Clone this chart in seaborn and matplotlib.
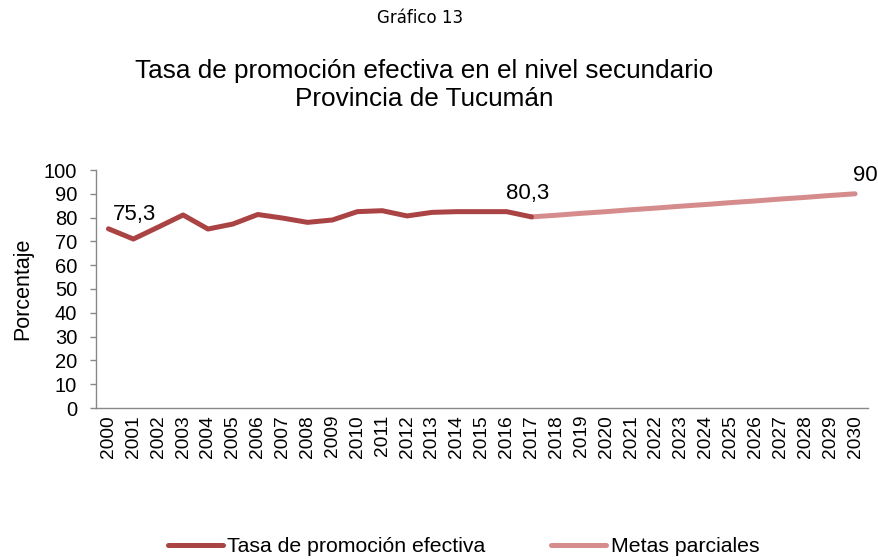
import matplotlib
matplotlib.use("Agg")
import matplotlib.pyplot as plt
import seaborn as sns
import pandas as pd

years_tasa = list(range(2000, 2018))
tasa = [75.3, 71.0, 76.0, 81.1, 75.2, 77.3, 81.3, 79.8, 78.0, 79.0, 82.5, 82.9, 80.7, 82.2, 82.5, 82.5, 82.5, 80.3]
years_metas = list(range(2017, 2031))
metas = [80.3, 81.0, 81.8, 82.5, 83.3, 84.0, 84.8, 85.5, 86.3, 87.0, 87.8, 88.5, 89.3, 90.0]
tick_years = list(range(2000, 2031))
yticks = list(range(0, 101, 10))

sns.set_theme(style="white")
plt.rcParams['font.family'] = ['Liberation Sans', 'DejaVu Sans']
plt.rcParams['text.color'] = 'black'
plt.rcParams['axes.labelcolor'] = 'black'
plt.rcParams['xtick.color'] = 'black'
plt.rcParams['ytick.color'] = 'black'

fig = plt.figure(figsize=(8.79, 5.6), dpi=100)
ax = fig.add_axes([96/879, 152/560, (867.5-96)/879, 238/560])

df1 = pd.DataFrame({"year": years_tasa, "v": tasa})
df2 = pd.DataFrame({"year": years_metas, "v": metas})
c1 = "#AA4343"
c2 = "#D68C8C"
sns.lineplot(data=df1, x="year", y="v", ax=ax, color=c1, lw=3.6,
             label="Tasa de promoción efectiva", solid_capstyle="round", zorder=3)
sns.lineplot(data=df2, x="year", y="v", ax=ax, color=c2, lw=3.6,
             label="Metas parciales", solid_capstyle="round", zorder=2)
ax.set_xlim(1999.5, 2030.5)
ax.set_ylim(0, 100)
ax.set_yticks(yticks)
ax.set_yticklabels([str(v) for v in yticks], fontsize=14.5)
ax.set_xticks(tick_years)
ax.set_xticklabels([str(y) for y in tick_years], rotation=90, fontsize=13.8)
ax.set_xticks([y + 0.5 for y in tick_years[:-1]] + [1999.5], minor=True)
ax.tick_params(axis="x", which="major", length=0, pad=5)
ax.tick_params(axis="x", which="minor", length=4.5, width=1, color="#888888", direction="out")
ax.tick_params(axis="y", length=4.5, width=1, color="#888888", direction="out", left=True, pad=9,
               labelcolor="black")
for s in ["top", "right"]:
    ax.spines[s].set_visible(False)
for s in ["left", "bottom"]:
    ax.spines[s].set_color("#888888")
    ax.spines[s].set_linewidth(1)
ax.set_xlabel("")
ax.set_ylabel("Porcentaje", fontsize=15.5, labelpad=8, color="black")

ax.annotate("75,3", (years_tasa[0], tasa[0]), xytext=(3, 6), textcoords="offset points",
            fontsize=16, ha="left", va="baseline")
ax.annotate("80,3", (years_tasa[-1], tasa[-1]), xytext=(-3, 13), textcoords="offset points",
            fontsize=16, ha="center", va="baseline")
ax.annotate("90", (years_metas[-1], metas[-1]), xytext=(-1.5, 9.5), textcoords="offset points",
            fontsize=16, ha="left", va="baseline")

ax.legend_.remove()
h, l = ax.get_legend_handles_labels()
fig.legend(h, l, loc="center", bbox_to_anchor=(463.5/879, 1 - 547/560), ncol=2, frameon=False,
           fontsize=15.3, handlelength=2.6, handletextpad=0.2, columnspacing=3.1)

fig.text(420/879, 1 - 18/560, "Gráfico 13", ha="center", va="center", fontsize=12,
         family=["DejaVu Sans"], color="black")
fig.text(424/879, 1 - 85/560, "Tasa de promoción efectiva en el nivel secundario\nProvincia de Tucumán",
         ha="center", va="center", fontsize=18.8, linespacing=1.18, color="black")

fig.savefig("out.png", dpi=100)
